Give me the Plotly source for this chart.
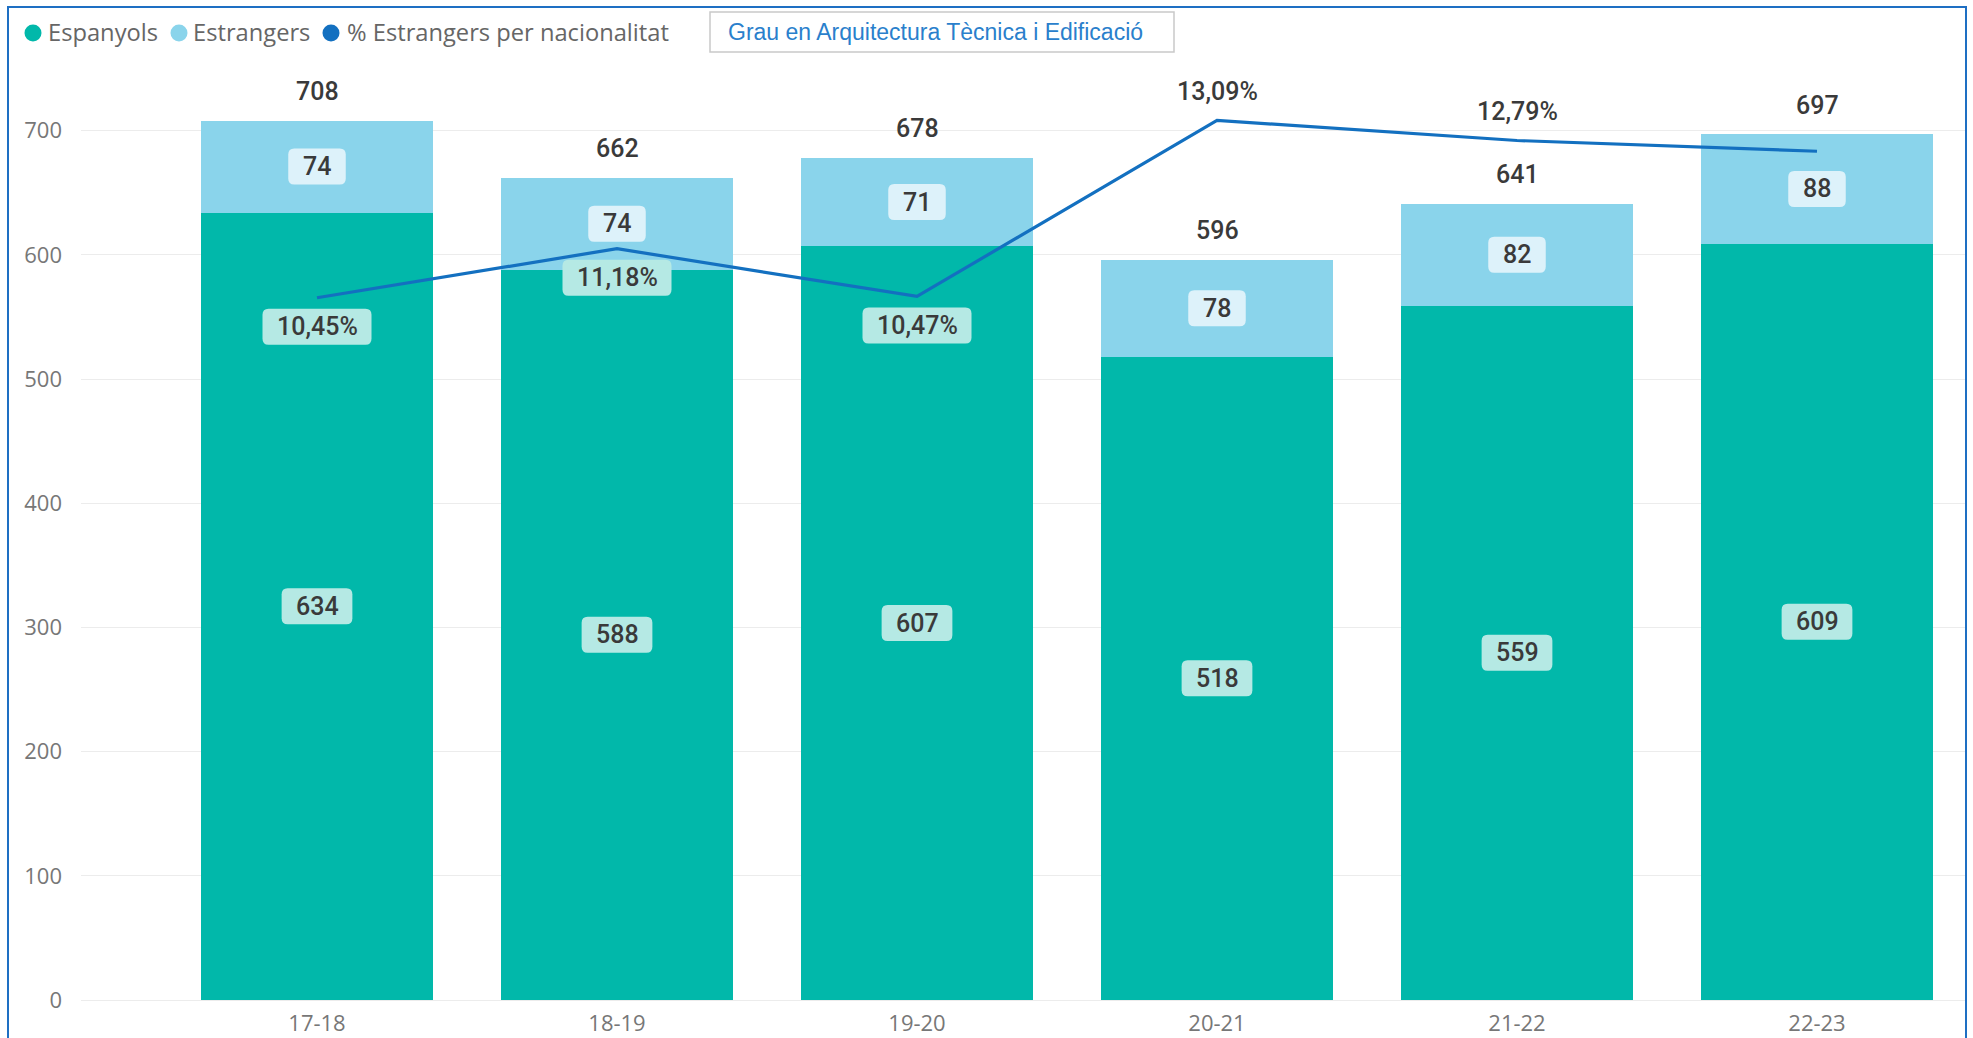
import plotly.graph_objects as go

# ---------------- data ----------------
cursos = ["17-18", "18-19", "19-20", "20-21", "21-22", "22-23"]
espanyols = [634, 588, 607, 518, 559, 609]
estrangers = [74, 74, 71, 78, 82, 88]
pct_estrangers = [10.45, 11.18, 10.47, 13.09, 12.79, 12.63]
pct_label_side = ["below", "below", "below", "above", "above", None]  # None: label hidden
y_ticks = [0, 100, 200, 300, 400, 500, 600, 700]
totals = [a + b for a, b in zip(espanyols, estrangers)]

titol = "Grau en Arquitectura Tècnica i Edificació"
legend_names = ["Espanyols", "Estrangers", "% Estrangers per nacionalitat"]

# ---------------- style ----------------
C_ESP = "#01B8AA"
C_EST = "#8AD4EB"
C_LINE = "#1370C0"
BG_ESP = "#B5E9E4"
BG_EST = "#DDF2FA"
TXT = "#3A3A3A"
TICK = "#777777"
LBL_FONT = "Roboto, sans-serif"
UI_FONT = "Open Sans, Noto Sans, sans-serif"

W, H = 1973, 1038
ML, MR, MT, MB = 81, 8, 40, 38
PW, PH = W - ML - MR, H - MT - MB
Y1_PX = 1.242       # px per unit (primary)
Y2_PX = 67.2        # px per % (secondary)
CAT_PX = 300        # px per category
X0 = -(317 - ML) / CAT_PX
x_range = [X0, X0 + PW / CAT_PX]

def px2x(px):
    return (px - ML) / PW

def py2y(py):
    return (H - MB - py) / PH

def text_w(s, size=25):
    w = 0
    for ch in s:
        if ch.isdigit():
            w += 0.53 * size
        elif ch == ",":
            w += 0.22 * size
        elif ch == "%":
            w += 0.78 * size
        else:
            w += 0.5 * size
    return w

def rrect_path(w, h, r, dy=0):
    x0, x1 = -w / 2, w / 2
    y0, y1 = dy - h / 2, dy + h / 2
    return (f"M{x0+r},{y0} L{x1-r},{y0} Q{x1},{y0} {x1},{y0+r} "
            f"L{x1},{y1-r} Q{x1},{y1} {x1-r},{y1} L{x0+r},{y1} "
            f"Q{x0},{y1} {x0},{y1-r} L{x0},{y0+r} Q{x0},{y0} {x0+r},{y0} Z")

xs = list(range(len(cursos)))

fig = go.Figure()
fig.add_trace(go.Bar(x=xs, y=espanyols, name=legend_names[0], marker=dict(color=C_ESP, line=dict(width=0)),
                     width=0.773, showlegend=False, hoverinfo="skip"))
fig.add_trace(go.Bar(x=xs, y=estrangers, name=legend_names[1], marker=dict(color=C_EST, line=dict(width=0)),
                     width=0.773, showlegend=False, hoverinfo="skip"))
fig.add_trace(go.Scatter(x=xs, y=pct_estrangers, name=legend_names[2], yaxis="y2", mode="lines",
                         line=dict(color=C_LINE, width=3.2), showlegend=False, hoverinfo="skip"))

shapes = []
annotations = []
BOX_H = 36
PAD = 31

def add_label(x, y, yref, text, bg, dy=0):
    if bg is not None:
        shapes.append(dict(type="path", xref="x", yref=yref, xsizemode="pixel", ysizemode="pixel",
                           xanchor=x, yanchor=y, path=rrect_path(text_w(text) + PAD, BOX_H, 6, dy),
                           fillcolor=bg, line=dict(width=0), layer="above"))
    annotations.append(dict(x=x, y=y, xref="x", yref=yref, text=text, showarrow=False,
                            yshift=dy, xanchor="center", yanchor="middle",
                            font=dict(family=LBL_FONT, size=25, color=TXT, weight=500)))

for i in xs:
    add_label(i, espanyols[i] / 2, "y", str(espanyols[i]), BG_ESP)
    add_label(i, espanyols[i] + estrangers[i] / 2, "y", str(estrangers[i]), BG_EST)
    add_label(i, totals[i], "y", str(totals[i]), None, dy=29)
    side = pct_label_side[i]
    if side is not None:
        txt = f"{pct_estrangers[i]:.2f}".replace(".", ",") + "%"
        if side == "below":
            add_label(i, pct_estrangers[i], "y2", txt, BG_ESP, dy=-29)
        else:
            add_label(i, pct_estrangers[i], "y2", txt, None, dy=29)

# legend (manual)
leg_dots = [33, 179, 331]
leg_text_x = [46, 191, 345]
leg_cols = [C_ESP, C_EST, C_LINE]
for name, dx, tx, col in zip(legend_names, leg_dots, leg_text_x, leg_cols):
    shapes.append(dict(type="circle", xref="paper", yref="paper",
                       x0=px2x(dx - 8.5), x1=px2x(dx + 8.5), y0=py2y(33 + 8.5), y1=py2y(33 - 8.5),
                       fillcolor=col, line=dict(width=0), layer="above"))
    annotations.append(dict(x=px2x(tx), y=py2y(32), xref="paper", yref="paper", text=name,
                            showarrow=False, xanchor="left", yanchor="middle",
                            font=dict(family=UI_FONT, size=23.7, color="#666666")))

# title box
shapes.append(dict(type="rect", xref="paper", yref="paper",
                   x0=px2x(710), x1=px2x(1174), y0=py2y(52), y1=py2y(12),
                   fillcolor="white", line=dict(color="#C9C9C9", width=1.5), layer="above"))
annotations.append(dict(x=px2x(935), y=py2y(32), xref="paper", yref="paper", text=titol,
                        showarrow=False, xanchor="center", yanchor="middle",
                        font=dict(family="Liberation Sans, Arial, sans-serif", size=23, color="#2A7FCC")))

# outer border
shapes.append(dict(type="rect", xref="paper", yref="paper",
                   x0=px2x(8), x1=px2x(1966), y0=py2y(1046), y1=py2y(7),
                   fillcolor="rgba(0,0,0,0)", line=dict(color="#1E6FC3", width=2), layer="above"))

fig.update_layout(
    width=W, height=H, autosize=False,
    margin=dict(l=ML, r=MR, t=MT, b=MB, pad=0, autoexpand=False),
    paper_bgcolor="white", plot_bgcolor="white",
    barmode="stack", bargap=0.227,
    showlegend=False,
    shapes=shapes, annotations=annotations,
    xaxis=dict(range=x_range, tickmode="array", tickvals=xs, ticktext=cursos,
               showgrid=False, zeroline=False, showline=False, ticks="",
               ticklabelstandoff=8, automargin=False,
               tickfont=dict(family=UI_FONT, size=22, color=TICK)),
    yaxis=dict(range=[0, PH / Y1_PX], tickmode="array", tickvals=y_ticks,
               showgrid=True, gridcolor="#ECECEC", gridwidth=1.2,
               zeroline=True, zerolinecolor="#ECECEC", zerolinewidth=1.2,
               showline=False, ticks="", ticklabelstandoff=18, automargin=False,
               tickfont=dict(family=UI_FONT, size=22, color=TICK)),
    yaxis2=dict(range=[0, PH / Y2_PX], overlaying="y", side="right", visible=False,
                showgrid=False, zeroline=False, automargin=False),
)

fig.write_html("out.html", config={"displayModeBar": False},
               post_script="document.body.style.margin='0';document.body.style.overflow='hidden';")
